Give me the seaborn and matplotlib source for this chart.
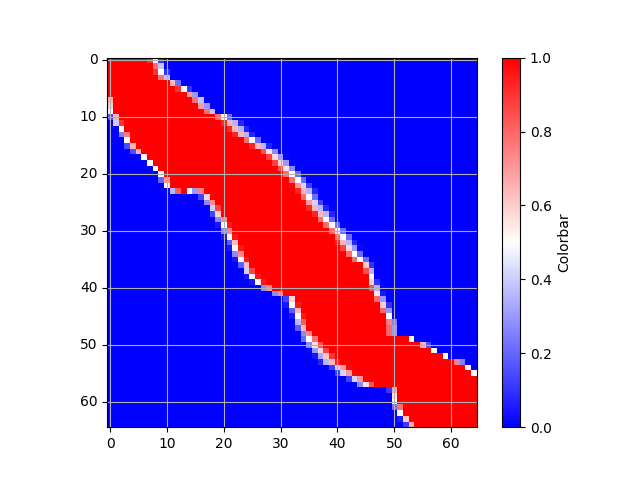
import numpy as np
import matplotlib
matplotlib.use("Agg")
import matplotlib.pyplot as plt
import seaborn as sns

# per-row edges of the red band (column where the colour passes through white)
left_edge = [-5, -5, -5, -5, -5, -5, -5, -0.3, -0.2, 0.0,
             0.7, 1.2, 2.0, 2.5, 3.0, 3.7, 4.7, 6.0, 7.0, 8.0,
             9.0, 9.6, 10.0, 11.3, 16.8, 17.5, 18.2, 18.8, 19.5, 20.0,
             20.5, 21.0, 21.7, 22.0, 22.5, 23.0, 23.7, 24.2, 25.0, 26.0,
             27.5, 29.5, 31.8, 32.0, 32.7, 33.0, 33.3, 33.7, 34.5, 35.0,
             35.8, 36.7, 37.6, 38.5, 40.3, 41.3, 43.3, 44.8, 49.7, 49.9,
             50.0, 50.5, 51.0, 51.8, 52.7]
right_edge = [8.0, 8.7, 9.0, 9.7, 11.3, 13.0, 14.5, 15.7, 16.5, 17.7,
              20.0, 21.5, 22.5, 23.5, 25.0, 26.5, 28.2, 29.3, 30.3, 31.2,
              32.0, 33.0, 33.7, 34.5, 35.0, 35.7, 36.5, 37.5, 38.0, 39.0,
              40.0, 41.0, 41.5, 42.3, 43.0, 44.0, 45.2, 45.7, 46.0, 46.2,
              46.7, 47.1, 47.6, 48.2, 48.6, 49.0, 49.5, 49.6, 49.6, 53.0,
              55.3, 57.0, 59.0, 61.5, 63.0, 64.0, 65.0, 70, 70, 70,
              70, 70, 70, 70, 70]
# softness of each edge (cells)
left_width = [2.0] * 23 + [2.2] * 26 + [3.5] * 9 + [1.8] * 7
right_width = [2.5] * 10 + [3.5] * 26 + [2.0] * 29
# odd cells in row 23
odd_cells = [(23, 14, 0.5), (23, 15, 0.3), (23, 16, 0.75)]

tick_labels = [0, 10, 20, 30, 40, 50, 60]

n = len(left_edge)
cols = np.arange(n)
data = np.zeros((n, n))
for r in range(n):
    lo = np.clip((cols - left_edge[r]) / left_width[r] + 0.5, 0, 1)
    hi = np.clip((right_edge[r] - cols) / right_width[r] + 0.5, 0, 1)
    data[r] = np.minimum(lo, hi)
for r, c, v in odd_cells:
    data[r, c] = v

fig, ax = plt.subplots(figsize=(6.4, 4.8), dpi=100)
sns.heatmap(data, cmap="bwr", vmin=0, vmax=1, square=True, ax=ax,
            cbar_kws={"label": "Colorbar"})

ax.set_xticks(np.array(tick_labels) + 0.5)
ax.set_xticklabels(tick_labels, rotation=0)
ax.set_yticks(np.array(tick_labels) + 0.5)
ax.set_yticklabels(tick_labels, rotation=0)
ax.grid(True)
for s in ax.spines.values():
    s.set_visible(True)
    s.set_linewidth(0.8)

cbar = ax.collections[0].colorbar
cbar.outline.set_linewidth(0.8)
cbar.set_ticks([0.0, 0.2, 0.4, 0.6, 0.8, 1.0])

plt.savefig("out.png")
